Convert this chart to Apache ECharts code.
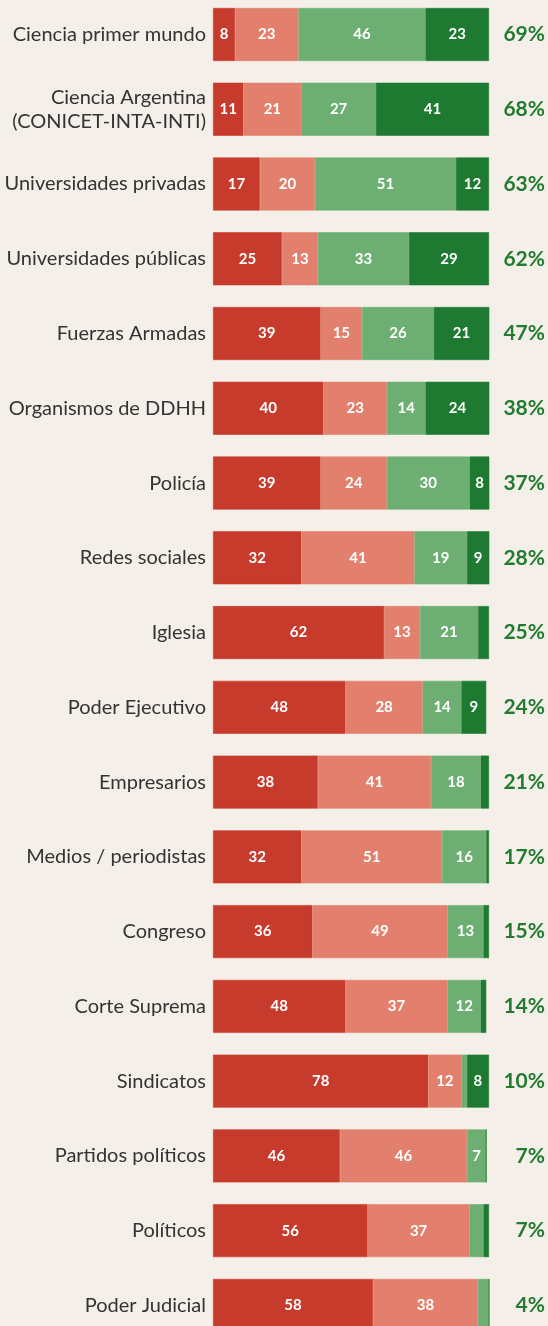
<!DOCTYPE html>
<html><head><meta charset="utf-8">
<script src="https://cdn.jsdelivr.net/npm/echarts@6/dist/echarts.min.js"></script>
<style>html,body{margin:0;padding:0;background:#f4f0e9;}#c{width:548px;height:1326px;}</style>
</head><body><div id="c"></div>
<script>
const categories = ["Ciencia primer mundo","Ciencia Argentina\n(CONICET-INTA-INTI)","Universidades privadas","Universidades públicas","Fuerzas Armadas","Organismos de DDHH","Policía","Redes sociales","Iglesia","Poder Ejecutivo","Empresarios","Medios / periodistas","Congreso","Corte Suprema","Sindicatos","Partidos políticos","Políticos","Poder Judicial"];
const nada = [8,11,17,25,39,40,39,32,62,48,38,32,36,48,78,46,56,58];
const poca = [23,21,20,13,15,23,24,41,13,28,41,51,49,37,12,46,37,38];
const algo = [46,27,51,33,26,14,30,19,21,14,18,16,13,12,2,7,5,4];
const mucha = [23,41,12,29,21,24,8,9,4,9,3,1,2,2,8,0,2,0];
const totalLabels = ["69%","68%","63%","62%","47%","38%","37%","28%","25%","24%","21%","17%","15%","14%","10%","7%","7%","4%"];
const colors = ["#c73b2c","#e3806d","#6daf72","#1f7a31"];
const chart = echarts.init(document.getElementById('c'));
function mk(name, data, color){
  return {name, type:'bar', stack:'t', data, barWidth:53,
    itemStyle:{color, borderColor:color, borderWidth:0.6},
    label:{show:true, position:'inside', color:'#fff', fontFamily:'Lato', fontWeight:'bold', fontSize:15,
      formatter:p=>p.value>=6?String(p.value):''}};
}
chart.setOption({
  backgroundColor:'#f4f0e9',
  animation:false,
  grid:{left:213, width:276, top:-2.9, height:1345.7, containLabel:false, outerBoundsMode:'none'},
  xAxis:{type:'value', min:0, max:100, show:false},
  yAxis:[
    {type:'category', data:categories, inverse:true, axisLine:{show:false}, axisTick:{show:false},
     axisLabel:{interval:0, margin:7, color:'#333', fontFamily:'Lato', fontSize:20, lineHeight:24, align:'right'}},
    {type:'category', data:totalLabels, inverse:true, position:'right', axisLine:{show:false}, axisTick:{show:false},
     axisLabel:{interval:0, margin:56, align:'right', color:'#237a31', fontFamily:'Lato', fontWeight:'bold', fontSize:21}}
  ],
  series:[mk('Nada',nada,colors[0]),mk('Poca',poca,colors[1]),mk('Algo',algo,colors[2]),mk('Mucha',mucha,colors[3])]
});
</script></body></html>
